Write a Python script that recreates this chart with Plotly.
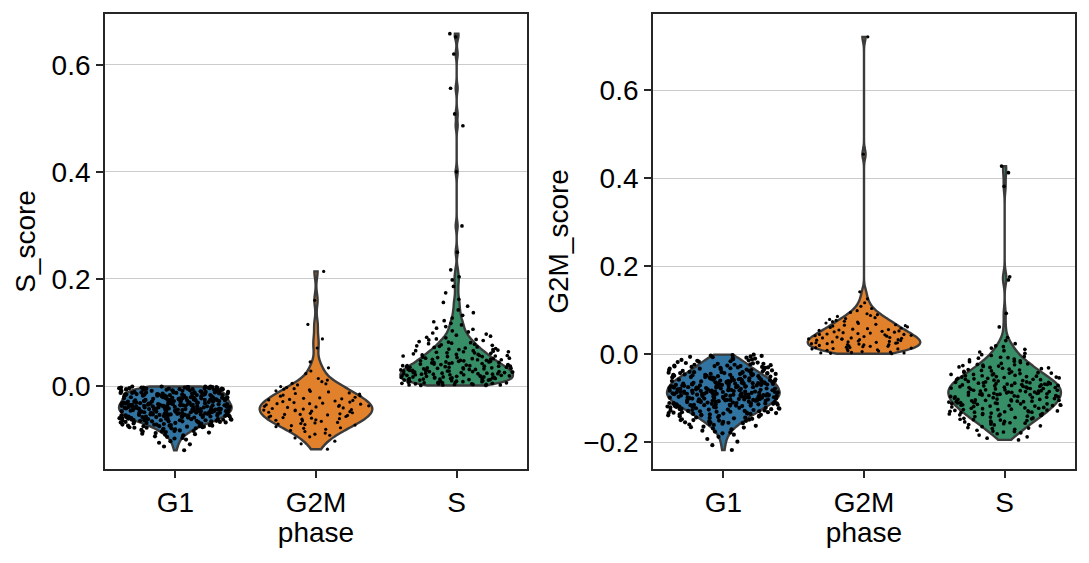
import numpy as np
import plotly.graph_objects as go

# ---------------- data (scores in thousandths) ----------------
phases = ["G1", "G2M", "S"]

s_score_G1 = [
    -1,-3,-2,-5,-7,-4,-9,-6,-8,-2,-5,-1,-3,-7,-9,-4,-6,-8,-10,-2,-5,-3,-7,-1,-6,-9,-4,-8,-2,-5,-3,-6,-7,-1,-9,-4,-8,-10,-5,-3,
    -11,-14,-17,-12,-19,-15,-13,-18,-16,-20,-11,-13,-17,-14,-19,-12,-16,-18,-15,-11,-20,-13,-17,-14,-12,-19,-16,-15,-18,-11,-13,-20,-14,-17,-12,-16,-19,-15,-18,-13,-11,-17,-14,-16,-12,
    -21,-24,-27,-22,-29,-25,-23,-28,-26,-30,-22,-24,-27,-21,-28,-25,-29,-23,-26,-24,-30,-22,-27,-25,-21,-28,-23,-26,-29,-24,-22,-27,-25,-21,-28,-26,-23,-30,-24,-29,-22,-26,-25,-27,-21,-28,-23,
    -31,-34,-37,-32,-39,-35,-33,-38,-36,-40,-32,-34,-37,-31,-38,-35,-39,-33,-36,-34,-40,-32,-37,-35,-31,-38,-33,-36,-39,-34,-32,-37,-35,-31,-38,-36,-33,-40,-34,-39,-32,-36,-35,-37,-31,-38,-33,-39,-34,-36,
    -41,-43,-46,-42,-48,-45,-44,-47,-49,-50,-42,-45,-41,-47,-43,-48,-46,-44,-49,-42,-50,-41,-46,-43,-45,-48,-47,-44,-42,-49,-41,-46,-45,-43,-47,-48,-44,-50,-42,-46,-41,-45,-49,-43,-47,-44,-48,-42,-46,-45,
    -51,-54,-52,-57,-55,-59,-53,-56,-58,-60,-52,-55,-51,-57,-54,-58,-53,-56,-59,-52,-55,-51,-57,-54,-60,-53,-56,-58,-52,-55,-51,-59,-54,-57,-53,-56,-52,-58,-55,-51,-54,-57,-53,-59,-56,
    -61,-63,-66,-62,-68,-64,-67,-65,-69,-70,-62,-64,-61,-66,-63,-68,-65,-67,-62,-69,-64,-61,-66,-63,-65,-68,-62,-67,-64,-70,-61,-66,-63,-65,-68,-62,
    -71,-74,-72,-77,-75,-79,-73,-76,-78,-80,-72,-75,-71,-77,-74,-78,-73,-76,-72,-79,-75,-74,
    -81,-84,-82,-87,-85,-89,-83,-86,-88,-90,-82,-85,-84,
    -92,-95,-91,-98,-94,-97,-100,
    -103,-106,-109,
    -113,-120,
]

s_score_G2M = [
    -118,-108,-103,
    -97,-92,-88,-85,-83,-95,-81,-90,
    -79,-76,-73,-71,-68,-66,-63,-61,-78,-74,-69,-65,-62,-72,-70,-64,
    -59,-57,-55,-53,-51,-49,-47,-45,-43,-41,-58,-54,-50,-46,-42,-56,-52,-48,-44,-60,-53,-45,-38,
    -39,-37,-35,-33,-31,-29,-27,-25,-23,-21,-38,-34,-30,-26,-22,-36,-32,-28,-24,-40,-33,
    -19,-17,-15,-13,-11,-9,-7,-5,-3,-1,-18,-14,-10,-6,
    2,5,8,11,14,4,
    23,28,34,
    45,
    71,88,
    115,160,214,
]

s_score_S = [
    1,2,3,4,5,6,7,8,9,10,1,3,5,7,9,2,4,6,8,10,2,5,8,3,6,9,4,7,
    11,12,13,14,15,16,17,18,19,20,11,13,15,17,19,12,14,16,18,20,12,15,18,11,14,17,13,19,16,
    21,22,23,24,25,26,27,28,29,30,21,23,25,27,29,22,24,26,28,30,22,25,28,21,24,27,23,26,29,
    31,32,33,34,35,36,37,38,39,40,31,33,35,37,39,32,34,36,38,40,32,35,38,31,34,37,
    41,42,43,44,45,46,47,48,49,50,41,43,45,47,49,42,44,46,48,50,
    51,52,53,54,55,56,57,58,59,60,51,53,55,57,59,52,56,
    61,62,63,64,65,66,67,68,69,70,62,64,66,68,
    71,72,73,74,75,76,77,78,79,80,
    81,82,83,85,86,87,88,90,
    91,93,95,97,99,
    101,103,106,108,111,114,117,120,
    122,127,132,137,
    142,149,156,
    162,174,
    186,198,
    204,217,
    250,299,400,486,508,556,620,652,658,
]

g2m_score_G1 = [
    -2,-5,-9,-13,-17,-4,-11,-15,-19,-7,-14,-18,-3,-10,-16,-20,-1,-6,-8,-12,
    -21,-25,-29,-33,-37,-23,-27,-31,-35,-39,-22,-26,-30,-34,-38,-24,-28,-32,-36,-40,-22,-29,-35,-26,-31,-38,-24,-33,-27,-36,-30,
    -41,-44,-47,-50,-53,-56,-59,-42,-45,-48,-51,-54,-57,-60,-43,-46,-49,-52,-55,-58,-41,-45,-49,-53,-57,-43,-47,-51,-55,-59,-42,-46,-50,-54,-58,-44,-48,-52,-56,-60,-41,-47,-53,-59,-45,-51,-57,-43,-55,
    -61,-63,-65,-67,-69,-71,-73,-75,-77,-79,-62,-64,-66,-68,-70,-72,-74,-76,-78,-80,-61,-64,-67,-70,-73,-76,-79,-62,-65,-68,-71,-74,-77,-80,-63,-66,-69,-72,-75,-78,-61,-65,-69,-73,-77,-62,-66,-70,-74,-78,-63,-67,-71,-75,-79,-64,-68,-72,-76,-80,-66,-73,
    -81,-83,-85,-87,-89,-91,-93,-95,-97,-99,-82,-84,-86,-88,-90,-92,-94,-96,-98,-100,-81,-84,-87,-90,-93,-96,-99,-82,-85,-88,-91,-94,-97,-100,-83,-86,-89,-92,-95,-98,-81,-85,-89,-93,-97,-82,-86,-90,-94,-98,-83,-87,-91,-95,-99,-84,-88,-92,-96,-100,-85,-90,-95,-88,-93,
    -101,-103,-105,-107,-109,-111,-113,-115,-117,-119,-102,-104,-106,-108,-110,-112,-114,-116,-118,-120,-101,-104,-107,-110,-113,-116,-119,-103,-106,-109,-112,-115,-118,-102,-105,-108,-111,-114,-117,-120,-101,-105,-109,-113,-117,-103,-107,-111,-115,-119,-102,-106,-110,-114,-118,-104,-112,
    -121,-123,-125,-127,-129,-131,-133,-135,-137,-139,-122,-124,-126,-128,-130,-132,-134,-136,-138,-140,-121,-124,-127,-130,-133,-136,-139,-123,-126,-129,-132,-135,-138,-122,-125,-128,-131,-134,-137,-140,
    -141,-143,-145,-147,-149,-151,-153,-155,-157,-159,-142,-144,-146,-148,-150,-152,-154,-156,-158,-160,-144,-150,-155,
    -161,-163,-165,-167,-169,-171,-174,-176,-178,-180,-166,
    -183,-188,-193,-199,
    -207,-218,
]

g2m_score_G2M = [
    1,3,5,7,9,2,4,6,8,10,3,
    11,12,13,14,15,16,17,18,19,20,12,15,18,
    21,22,23,24,25,26,27,28,29,30,22,24,26,28,
    31,32,33,34,35,36,37,38,39,40,33,35,37,
    41,42,43,44,45,46,47,48,49,50,45,
    51,52,54,55,56,58,59,53,57,
    61,62,64,65,67,68,70,66,
    71,73,75,77,79,74,
    81,83,86,88,90,
    92,95,99,
    104,109,117,
    126,142,
    455,722,
]

g2m_score_S = [
    -195,-191,-188,-184,-181,
    -179,-177,-175,-173,-171,-169,-167,-165,-163,-161,-176,-168,
    -159,-157,-155,-153,-151,-149,-147,-145,-143,-141,-160,-158,-156,-154,-152,-150,-148,-146,-144,-142,
    -139,-137,-135,-133,-131,-129,-127,-125,-123,-121,-140,-138,-136,-134,-132,-130,-128,-126,-124,-122,-138,-135,-132,-129,-126,-123,-137,-131,
    -119,-117,-115,-113,-111,-109,-107,-105,-103,-101,-120,-118,-116,-114,-112,-110,-108,-106,-104,-102,-118,-115,-112,-109,-106,-103,-117,-113,-110,-107,-104,-116,-111,-105,-108,
    -99,-97,-95,-93,-91,-89,-87,-85,-83,-81,-100,-98,-96,-94,-92,-90,-88,-86,-84,-82,-98,-95,-92,-89,-86,-83,-97,-94,-91,-88,-85,-82,-96,-93,-90,-87,-84,-81,
    -79,-77,-75,-73,-71,-69,-67,-65,-63,-61,-80,-78,-76,-74,-72,-70,-68,-66,-64,-62,-78,-75,-72,-69,-66,-63,-77,-73,-70,-67,-64,-76,-71,-65,-68,
    -59,-57,-55,-53,-51,-49,-47,-45,-43,-41,-60,-58,-56,-54,-52,-50,-48,-46,-44,-42,-58,-55,-52,-49,-46,-43,-57,-51,
    -39,-37,-35,-33,-31,-29,-27,-25,-23,-21,-40,-38,-36,-34,-32,-30,-28,-26,-24,-22,
    -19,-17,-15,-13,-11,-9,-7,-5,-3,-1,-16,-8,
    2,5,8,11,14,17,19,
    24,31,38,
    62,93,169,176,382,413,428,
]

panel_data = {
    "S_score": {"G1": s_score_G1, "G2M": s_score_G2M, "S": s_score_S},
    "G2M_score": {"G1": g2m_score_G1, "G2M": g2m_score_G2M, "S": g2m_score_S},
}
y_ticks_left = [0.0, 0.2, 0.4, 0.6]
y_ticks_right = [-0.2, 0.0, 0.2, 0.4, 0.6]

# ---------------- styling ----------------
colors = {"G1": "#3274a1", "G2M": "#e1812c", "S": "#368f67"}
dot_size = {"G1": 4.2, "G2M": 3.2, "S": 3.7}
bandwidths = {
    "S_score": {"G1": 0.006, "G2M": 0.013, "S": 0.008},
    "G2M_score": {"G1": 0.010, "G2M": 0.011, "S": 0.014},
}
FONT = "Liberation Sans, Arial, Helvetica, sans-serif"
FS = 28
SPINE = "#262626"

fig = go.Figure()
axes_ids = {"S_score": ("x", "y"), "G2M_score": ("x2", "y2")}
for score, (xa, ya) in axes_ids.items():
    for ph in phases:
        vals = np.array(panel_data[score][ph], dtype=float) / 1000.0
        fig.add_trace(go.Violin(
            x=[ph] * len(vals), y=vals, xaxis=xa, yaxis=ya,
            name=ph, showlegend=False,
            fillcolor=colors[ph], opacity=1,
            line=dict(color="#3b3b3b", width=2.4),
            width=0.8, scalemode="width", spanmode="hard",
            bandwidth=bandwidths[score][ph],
            points="all", jitter=1, pointpos=0,
            marker=dict(color="black", size=dot_size[ph], line=dict(width=0)),
            box_visible=False, meanline_visible=False,
            hoverinfo="skip",
        ))

common_x = dict(
    type="category", categoryorder="array", categoryarray=phases,
    range=[-0.5, 2.5], showline=True, mirror=True, linecolor=SPINE, linewidth=1.8,
    ticks="outside", ticklen=7, tickwidth=1.5, tickcolor=SPINE, showgrid=False,
    zeroline=False, tickfont=dict(size=FS, color="black"),
    title=dict(text="phase", font=dict(size=FS, color="black"), standoff=2),
)
common_y = dict(
    showline=True, mirror=True, linecolor=SPINE, linewidth=1.8,
    ticks="outside", ticklen=7, tickwidth=1.5, tickcolor=SPINE,
    showgrid=True, gridcolor="#cccccc", gridwidth=1.4, zeroline=False,
    tickformat=".1f", tickfont=dict(size=FS, color="black"),
)

fig.update_layout(
    width=1089, height=563, margin=dict(l=0, r=0, t=0, b=0),
    paper_bgcolor="white", plot_bgcolor="white",
    font=dict(family=FONT, size=FS, color="black"),
    violinmode="overlay", showlegend=False,
    xaxis=dict(domain=[105 / 1089, 527 / 1089], anchor="y", **common_x),
    xaxis2=dict(domain=[653 / 1089, 1075 / 1089], anchor="y2", **common_x),
    yaxis=dict(domain=[1 - 469 / 563, 1 - 14 / 563], anchor="x",
               range=[-0.155, 0.6947], tickvals=y_ticks_left,
               title=dict(text="S_score", font=dict(size=FS, color="black"), standoff=8),
               **common_y),
    yaxis2=dict(domain=[1 - 469 / 563, 1 - 14 / 563], anchor="x2",
                range=[-0.2612, 0.774], tickvals=y_ticks_right,
                title=dict(text="G2M_score", font=dict(size=FS, color="black"), standoff=6),
                **common_y),
)

fig.write_html("out.html")
